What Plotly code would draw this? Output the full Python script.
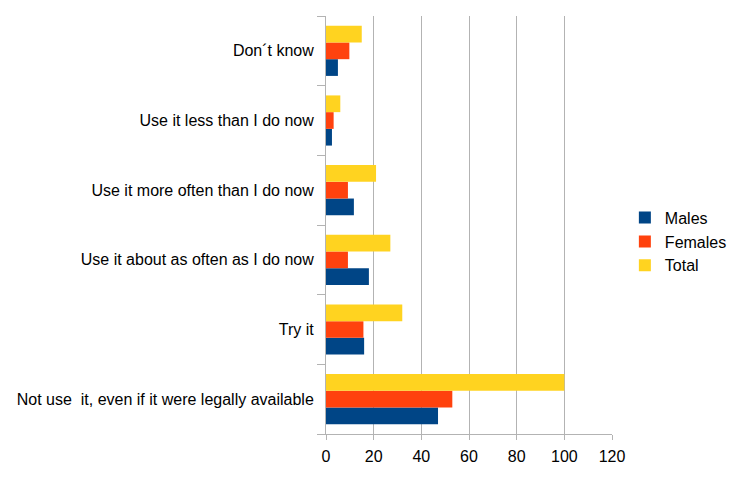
import plotly.graph_objects as go

categories = [
    "Not use  it, even if it were legally available",
    "Try it",
    "Use it about as often as I do now",
    "Use it more often than I do now",
    "Use it less than I do now",
    "Don´t know",
]
males = [47, 16, 18, 11.7, 2.5, 5]
females = [53, 15.7, 9.2, 9.2, 3.2, 9.8]
total = [100, 32, 27, 21, 6, 15]
x_ticks = [0, 20, 40, 60, 80, 100, 120]

series = [("Males", males, "#004586"), ("Females", females, "#ff420e"), ("Total", total, "#ffd320")]
ypos = list(range(len(categories)))

fig = go.Figure()
for name, vals, color in series:
    fig.add_trace(go.Bar(y=ypos, x=vals, name=name, orientation="h",
                         marker=dict(color=color, line=dict(width=0)),
                         hovertext=categories))

fig.update_layout(
    width=750, height=480,
    barmode="group", bargap=0.28, bargroupgap=0,
    plot_bgcolor="white", paper_bgcolor="white",
    margin=dict(l=318, r=146, t=8, b=54, autoexpand=False),
    font=dict(family="Liberation Sans, Arial, sans-serif", size=16, color="black"),
    legend=dict(x=1.045, y=0.46, xanchor="left", yanchor="middle",
                font=dict(size=16), traceorder="normal", itemwidth=30),
    showlegend=True,
)
fig.update_xaxes(range=[0, 120], tickvals=x_ticks, showgrid=True, gridcolor="#b3b3b3",
                 gridwidth=1, showline=True, linecolor="#b3b3b3", linewidth=1,
                 ticks="outside", ticklen=5, tickcolor="#b3b3b3", tickwidth=1,
                 tickfont=dict(size=16), zeroline=False, automargin=False,
                 ticklabelstandoff=3)
fig.update_yaxes(type="linear", range=[-0.5, len(categories) - 0.5],
                 tickvals=ypos, ticktext=categories,
                 showline=True, linecolor="#b3b3b3", linewidth=1,
                 ticks="", showgrid=False, zeroline=False,
                 tickfont=dict(size=16), automargin=False, ticklabelstandoff=8,
                 minor=dict(tickmode="linear", tick0=0.5, dtick=1, ticks="outside",
                            ticklen=8, tickcolor="#b3b3b3", tickwidth=1, showgrid=False))

fig.write_html("out.html")
